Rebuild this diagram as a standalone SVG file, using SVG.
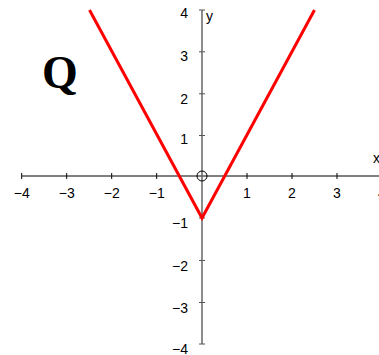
<svg xmlns="http://www.w3.org/2000/svg" width="379" height="355" viewBox="0 0 379 355">
<style>
.lbl{font-family:"Liberation Sans",Arial,sans-serif;font-size:14px;fill:#000}
.xl{text-anchor:middle}
.yl{text-anchor:end}
.tick{stroke:#000;stroke-width:1}
.ytick{stroke:#555;stroke-width:1}
</style>
<rect width="379" height="355" fill="#fff"/>
<g id="axes">
<line x1="21.7" y1="176" x2="379" y2="176" stroke="#000" stroke-width="1"/>
<line x1="202" y1="10" x2="202" y2="344" stroke="#666" stroke-width="1.5"/>
<g class="tick">
<line x1="21.7" y1="173" x2="21.7" y2="179"/>
<line x1="66.7" y1="173" x2="66.7" y2="179"/>
<line x1="111.7" y1="173" x2="111.7" y2="179"/>
<line x1="156.7" y1="173" x2="156.7" y2="179"/>
<line x1="247" y1="173" x2="247" y2="179"/>
<line x1="292" y1="173" x2="292" y2="179"/>
<line x1="337" y1="173" x2="337" y2="179"/>
</g>
<g class="ytick">
<line x1="199" y1="10" x2="205" y2="10"/>
<line x1="199" y1="51.8" x2="205" y2="51.8"/>
<line x1="199" y1="93.8" x2="205" y2="93.8"/>
<line x1="199" y1="135.5" x2="205" y2="135.5"/>
<line x1="199" y1="218" x2="205" y2="218"/>
<line x1="199" y1="260.5" x2="205" y2="260.5"/>
<line x1="199" y1="302.5" x2="205" y2="302.5"/>
<line x1="199" y1="344" x2="205" y2="344"/>
</g>
</g>
<g id="labels">
<text class="lbl xl" x="21.7" y="198">−4</text>
<text class="lbl xl" x="66.7" y="198">−3</text>
<text class="lbl xl" x="111.7" y="198">−2</text>
<text class="lbl xl" x="156.7" y="198">−1</text>
<text class="lbl xl" x="247" y="198">1</text>
<text class="lbl xl" x="292" y="198">2</text>
<text class="lbl xl" x="337" y="198">3</text>
<text class="lbl xl" x="382" y="198">4</text>
<text class="lbl yl" x="188" y="18">4</text>
<text class="lbl yl" x="188" y="61">3</text>
<text class="lbl yl" x="188" y="104">2</text>
<text class="lbl yl" x="188" y="144">1</text>
<text class="lbl yl" x="188" y="228">−1</text>
<text class="lbl yl" x="188" y="271">−2</text>
<text class="lbl yl" x="188" y="313">−3</text>
<text class="lbl yl" x="188" y="354">−4</text>
<text class="lbl" x="206" y="21">y</text>
<text class="lbl" x="373" y="163">x</text>
</g>
<g id="origin">
<circle cx="202" cy="176" r="5" fill="none" stroke="#000" stroke-width="1"/>
</g>
<g id="curve">
<polyline points="89.5,10 202,218 314.5,10" fill="none" stroke="#ff0000" stroke-width="3" stroke-linejoin="miter"/>
</g>
<g id="title">
<text x="42" y="88" style="font-family:'Liberation Serif','Times New Roman',serif;font-size:46px;font-weight:bold;fill:#000">Q</text>
</g>
</svg>
